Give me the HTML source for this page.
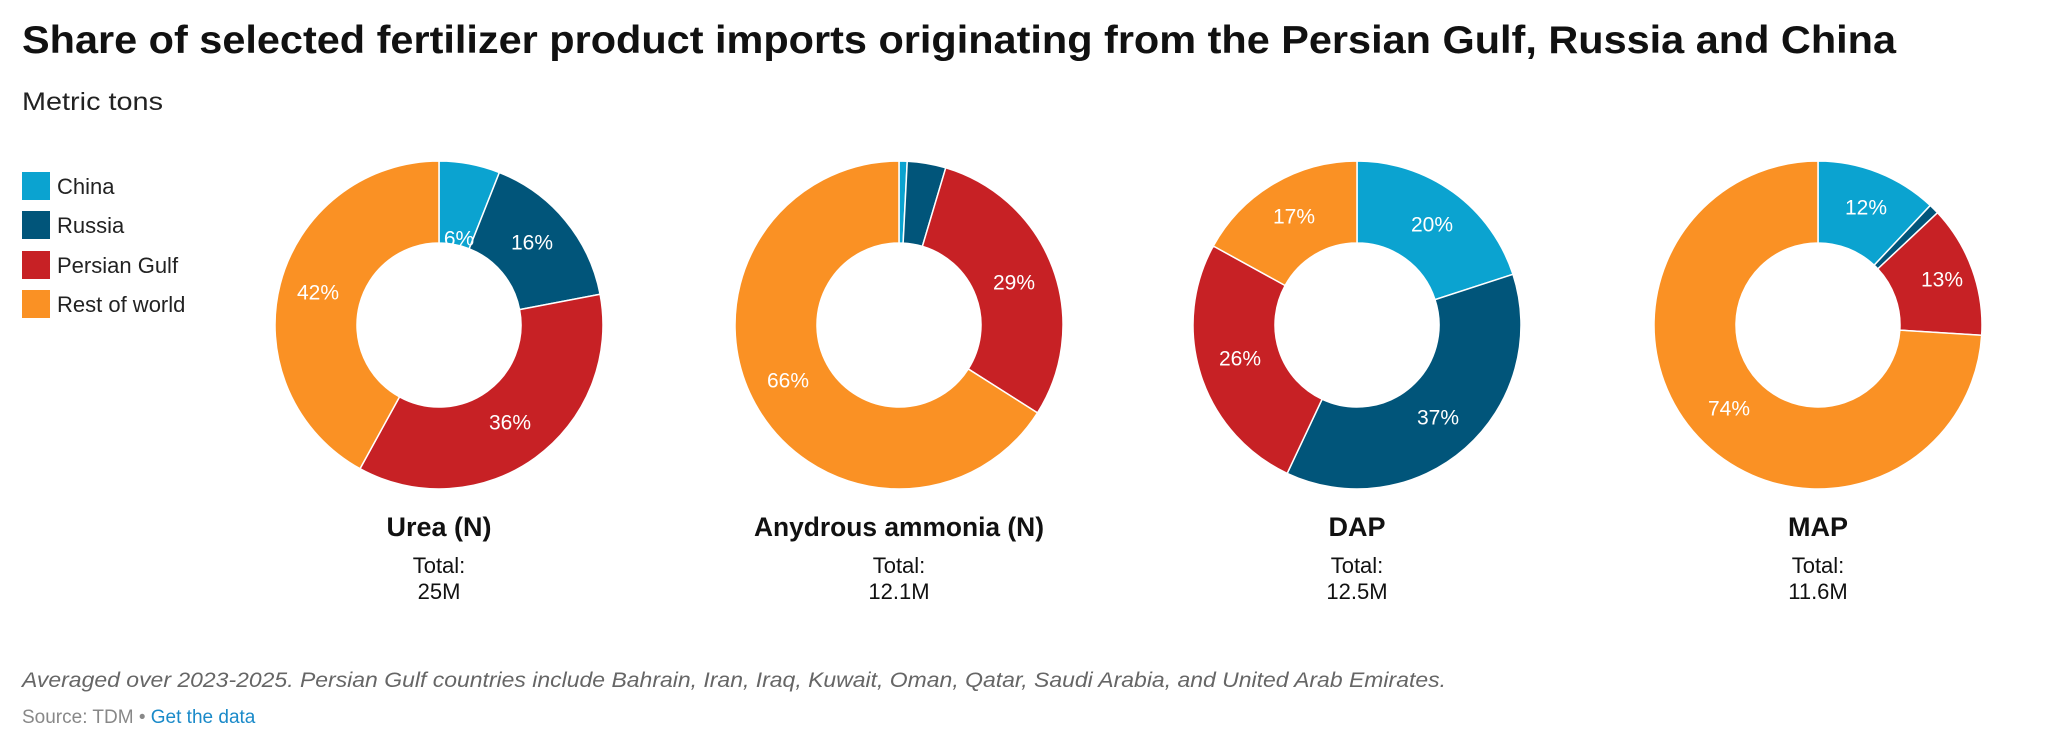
<!DOCTYPE html>
<html><head><meta charset="utf-8"><style>
html,body{margin:0;padding:0;background:#fff}
svg{display:block}
text{font-family:"Liberation Sans",sans-serif}
</style></head><body>
<svg id="s" width="2060" height="748" viewBox="0 0 2060 748">
<text x="22" y="53" font-size="39" font-weight="bold" fill="#111" textLength="1874" lengthAdjust="spacingAndGlyphs">Share of selected fertilizer product imports originating from the Persian Gulf, Russia and China</text>
<text x="22" y="110" font-size="25" fill="#222" textLength="141" lengthAdjust="spacingAndGlyphs">Metric tons</text>
<rect x="22" y="172" width="28" height="28" fill="#0ba3d0"/>
<text x="57" y="194" font-size="22" fill="#222">China</text>
<rect x="22" y="211" width="28" height="28" fill="#01557a"/>
<text x="57" y="233" font-size="22" fill="#222">Russia</text>
<rect x="22" y="251" width="28" height="28" fill="#c72125"/>
<text x="57" y="273" font-size="22" fill="#222">Persian Gulf</text>
<rect x="22" y="290" width="28" height="28" fill="#fa9124"/>
<text x="57" y="312" font-size="22" fill="#222">Rest of world</text>
<g id="pies"></g>
<g font-size="21" fill="#fff" text-anchor="middle" dominant-baseline="central">
<text x="459" y="239">6%</text><text x="532" y="243">16%</text><text x="510" y="423">36%</text><text x="318" y="293">42%</text>
<text x="1014" y="283">29%</text><text x="788" y="381">66%</text>
<text x="1432" y="225">20%</text><text x="1294" y="217">17%</text><text x="1240" y="359">26%</text><text x="1438" y="418">37%</text>
<text x="1866" y="208">12%</text><text x="1942" y="280">13%</text><text x="1729" y="409">74%</text>
</g>
<g text-anchor="middle" fill="#111">
<text x="439" y="536" font-size="27" font-weight="bold">Urea (N)</text>
<text x="439" y="573" font-size="22">Total:</text><text x="439" y="599" font-size="22">25M</text>
<text x="899" y="536" font-size="27" font-weight="bold" textLength="290" lengthAdjust="spacingAndGlyphs">Anydrous ammonia (N)</text>
<text x="899" y="573" font-size="22">Total:</text><text x="899" y="599" font-size="22">12.1M</text>
<text x="1357" y="536" font-size="27" font-weight="bold">DAP</text>
<text x="1357" y="573" font-size="22">Total:</text><text x="1357" y="599" font-size="22">12.5M</text>
<text x="1818" y="536" font-size="27" font-weight="bold">MAP</text>
<text x="1818" y="573" font-size="22">Total:</text><text x="1818" y="599" font-size="22">11.6M</text>
</g>
<text x="22" y="687" font-size="21" font-style="italic" fill="#666" textLength="1424" lengthAdjust="spacingAndGlyphs">Averaged over 2023-2025. Persian Gulf countries include Bahrain, Iran, Iraq, Kuwait, Oman, Qatar, Saudi Arabia, and United Arab Emirates.</text>
<text x="22" y="723" font-size="19" fill="#888">Source: TDM • <tspan fill="#1a8ac9">Get the data</tspan></text>
</svg>
<script>
var C=["#0ba3d0","#01557a","#c72125","#fa9124"];
var P=[[439,[6,16,36,42]],[899,[0.8,3.8,29.4,66]],[1357,[20,37,26,17]],[1818,[12,1,13,74]]];
var cy=325,R=164,r=82,g=document.getElementById("pies"),h="";
function pt(cx,rad,a){var t=a*Math.PI*2;return (cx+rad*Math.sin(t)).toFixed(2)+","+(cy-rad*Math.cos(t)).toFixed(2);}
P.forEach(function(p){var cx=p[0],s=0,tot=p[1].reduce(function(a,b){return a+b},0);
p[1].forEach(function(v,i){var a0=s/tot,a1=(s+v)/tot;s+=v;var L=(a1-a0)>0.5?1:0;
h+='<path d="M'+pt(cx,R,a0)+' A'+R+','+R+' 0 '+L+' 1 '+pt(cx,R,a1)+' L'+pt(cx,r,a1)+' A'+r+','+r+' 0 '+L+' 0 '+pt(cx,r,a0)+' Z" fill="'+C[i]+'" stroke="#fff" stroke-width="1.5"/>';});});
g.innerHTML=h;
</script>
</body></html>
